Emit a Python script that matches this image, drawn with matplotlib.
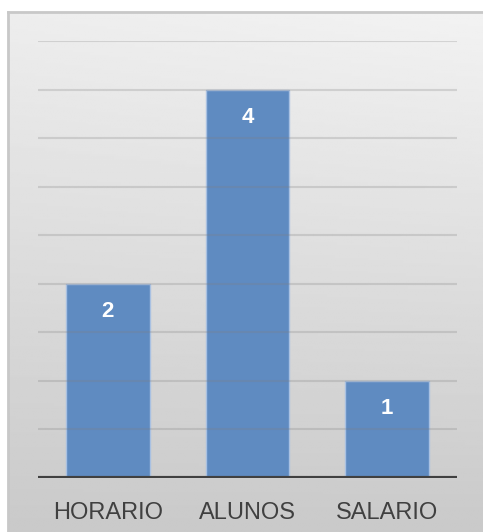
import numpy as np
import matplotlib.pyplot as plt

plt.rcParams['font.family'] = ['Liberation Sans', 'DejaVu Sans']

# dados
categorias = ["HORARIO", "ALUNOS", "SALARIO"]
valores = [2, 4, 1]

fig = plt.figure(figsize=(4.83, 5.32), dpi=100)
fig.patch.set_facecolor("white")

# fundo com gradiente cinza
bg = fig.add_axes([8 / 483, 0, 1 - 8 / 483, 1 - 12 / 532])
yy, xx = np.mgrid[0:1:200j, 0:1:200j]
shade = 0.95 - 0.16 * yy - 0.02 * (1 - xx) * (1 - yy)
bg.imshow(shade, cmap="gray", vmin=0, vmax=1, aspect="auto",
          extent=[0, 1, 0, 1], origin="upper")
bg.set_xlim(0, 1)
bg.set_ylim(0, 1)
bg.set_xticks([])
bg.set_yticks([])
for s in ["left", "top"]:
    bg.spines[s].set_color("#c8c8c8")
    bg.spines[s].set_linewidth(2)
for s in ["right", "bottom"]:
    bg.spines[s].set_visible(False)

ax = fig.add_axes([38 / 483, 1 - 478 / 532, 419 / 483, 437 / 532])
ax.patch.set_alpha(0)

x = np.arange(len(categorias))
bars = ax.bar(x, valores, width=0.6, color="#5f8bc1", edgecolor="#a9c1e2",
              linewidth=1, zorder=2)

for v in np.arange(0.5, 4.51, 0.5):
    ax.axhline(v, color="#7f7f7f", alpha=0.25, linewidth=1.5, zorder=3)
ax.axhline(0, color="#404040", linewidth=3, zorder=4)

for b, v in zip(bars, valores):
    ax.annotate(str(v), (b.get_x() + b.get_width() / 2, v),
                xytext=(0, -20), textcoords="offset points",
                ha="center", va="center", color="white",
                fontsize=16, fontweight="bold", zorder=5)

ax.set_xlim(-0.5, 2.5)
ax.set_ylim(0, 4.5)
ax.set_yticks([])
ax.set_xticks(x)
ax.set_xticklabels(categorias, fontsize=17, color="#404040")
ax.tick_params(axis="x", length=0, pad=17)
for s in ax.spines.values():
    s.set_visible(False)

fig.savefig("out.png", dpi=100)
